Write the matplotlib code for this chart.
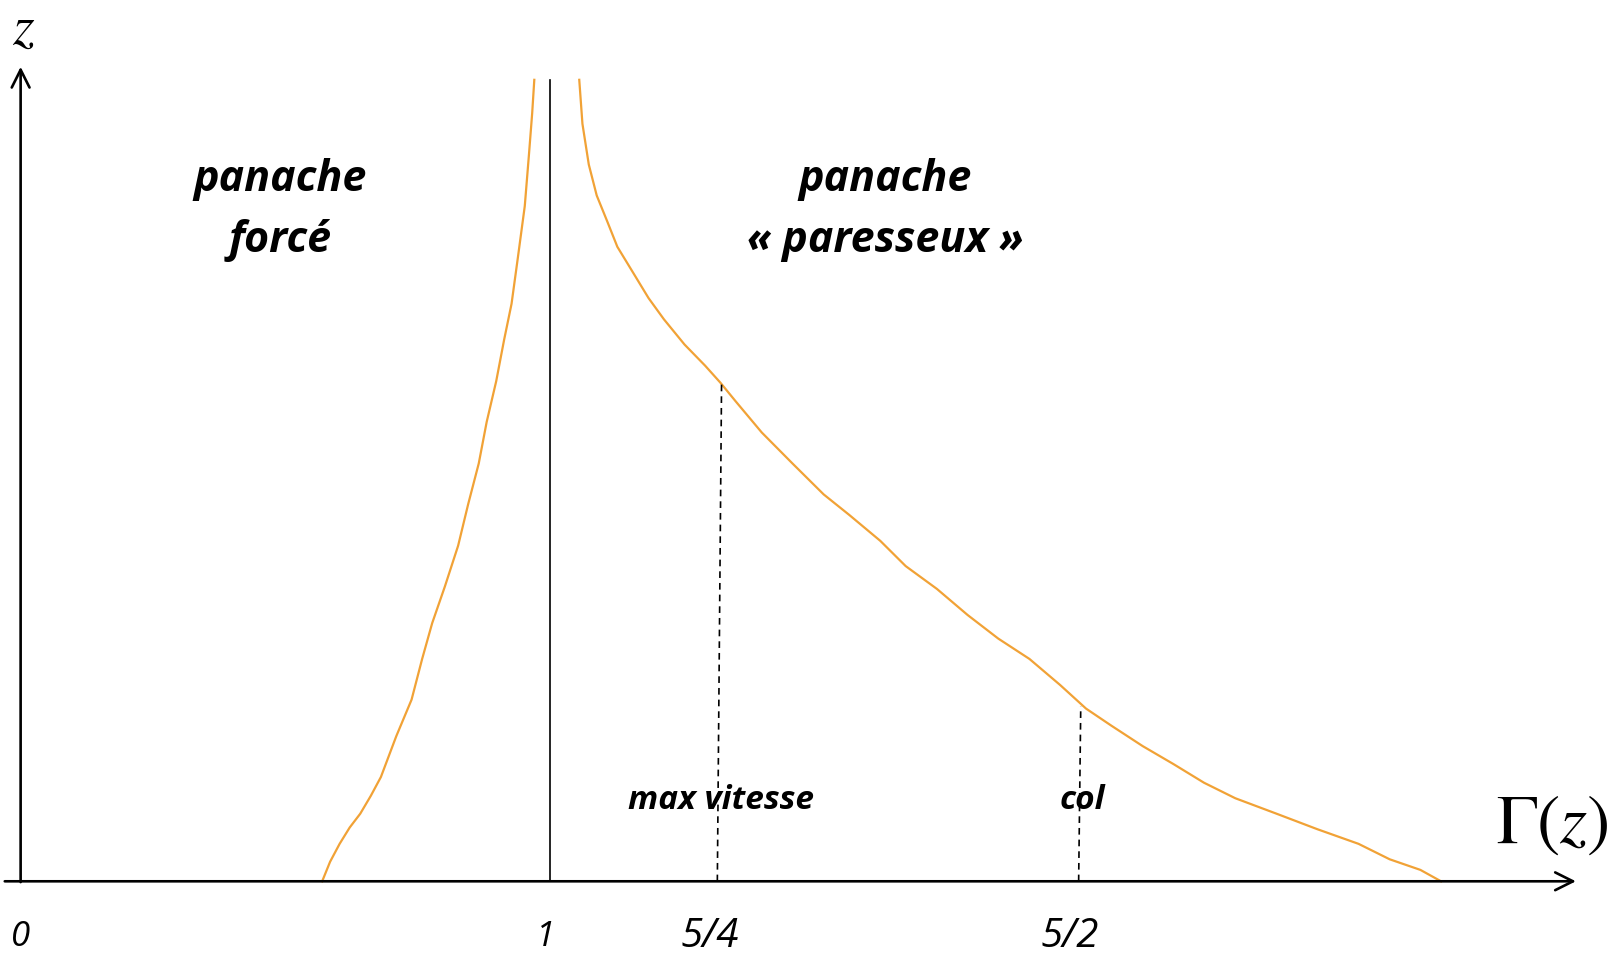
import matplotlib
matplotlib.use("Agg")
import matplotlib.pyplot as plt

# schematic positions of the tick marks on the Gamma axis
tick_pos = [0.0, 0.992, 1.303, 1.984]
tick_labels = ["0", "1", "5/4", "5/2"]

# forced plume branch (Gamma < 1)
gamma_left = [0.570, 0.585, 0.603, 0.622, 0.642, 0.662, 0.681, 0.710, 0.739, 0.759,
              0.778, 0.802, 0.827, 0.846, 0.866, 0.881, 0.899, 0.914, 0.928, 0.940,
              0.953, 0.961, 0.967, 0.971]
z_left = [0.0, 0.024, 0.046, 0.066, 0.083, 0.105, 0.128, 0.178, 0.223, 0.273,
          0.317, 0.362, 0.412, 0.463, 0.513, 0.564, 0.614, 0.665, 0.709, 0.766,
          0.829, 0.893, 0.943, 0.984]

# lazy plume branch (Gamma > 1)
gamma_right = [1.056, 1.062, 1.074, 1.089, 1.109, 1.128, 1.158, 1.187, 1.216, 1.255,
               1.294, 1.323, 1.352, 1.401, 1.459, 1.518, 1.566, 1.625, 1.673, 1.732,
               1.790, 1.848, 1.907, 1.965, 2.014, 2.062, 2.121, 2.179, 2.237, 2.296,
               2.374, 2.451, 2.529, 2.588, 2.646, 2.685]
z_right = [0.984, 0.930, 0.880, 0.842, 0.810, 0.779, 0.747, 0.716, 0.690, 0.659,
           0.633, 0.612, 0.589, 0.551, 0.513, 0.475, 0.450, 0.418, 0.387, 0.359,
           0.327, 0.298, 0.273, 0.241, 0.212, 0.191, 0.166, 0.144, 0.121, 0.102,
           0.083, 0.064, 0.046, 0.027, 0.014, 0.0]

# marked points: gamma at bottom, gamma and z where the dashed line meets the curve
marks_gamma_bottom = [1.317, 2.000]
marks_gamma_top = [1.325, 2.004]
marks_z_top = [0.612, 0.215]
marks_labels = ["max vitesse", "col"]

orange = "#f1a236"
txt_font = "Open Sans"

plt.rcParams['mathtext.fontset'] = 'stix'

fig = plt.figure(figsize=(16.14, 9.66), dpi=100)
ax = fig.add_axes([0, 0, 1, 1])
ax.set_xlim(-0.039, 3.012)
ax.set_ylim(-0.104, 1.082)
ax.axis('off')

# axes with open arrow heads
ax.annotate("", xy=(2.94, 0), xytext=(-0.03, 0),
            arrowprops=dict(arrowstyle='->', lw=1.9, color='black', mutation_scale=32,
                            shrinkA=0, shrinkB=0))
ax.annotate("", xy=(0, 1.0), xytext=(0, -0.001),
            arrowprops=dict(arrowstyle='->', lw=1.9, color='black', mutation_scale=32,
                            shrinkA=0, shrinkB=0))

# vertical asymptote at Gamma = 1
ax.plot([1.0, 1.0], [0, 0.984], color='black', lw=1.2)

ax.plot(gamma_left, z_left, color=orange, lw=1.6)
ax.plot(gamma_right, z_right, color=orange, lw=1.6)

for gb, gt, zt, lab in zip(marks_gamma_bottom, marks_gamma_top, marks_z_top, marks_labels):
    ax.plot([gb, gt], [0, zt], color='black', lw=1.2, ls=(0, (4, 3)))
    ax.text(gb + 0.006, 0.099, lab, fontsize=24, fontstyle='italic', fontweight='bold',
            family=txt_font, ha='center', va='center')

sizes = [25, 25, 29, 29]
for p, lab, s in zip(tick_pos, tick_labels, sizes):
    ax.text(p, -0.068, lab, fontsize=s, fontstyle='italic', family=txt_font,
            ha='center', va='center')

ax.text(0.490, 0.824, "panache\nforcé", fontsize=31, fontstyle='italic', fontweight='bold',
        family=txt_font, ha='center', va='center', linespacing=1.55)
ax.text(1.634, 0.824, "panache\n« paresseux »", fontsize=31, fontstyle='italic',
        fontweight='bold', family=txt_font, ha='center', va='center', linespacing=1.55)

ax.text(0.006, 1.047, r"$z$", fontsize=40, ha='center', va='center')
ax.text(2.895, 0.071, r"$\Gamma(z)$", fontsize=50, ha='center', va='center')

fig.savefig("out.png", dpi=100)
